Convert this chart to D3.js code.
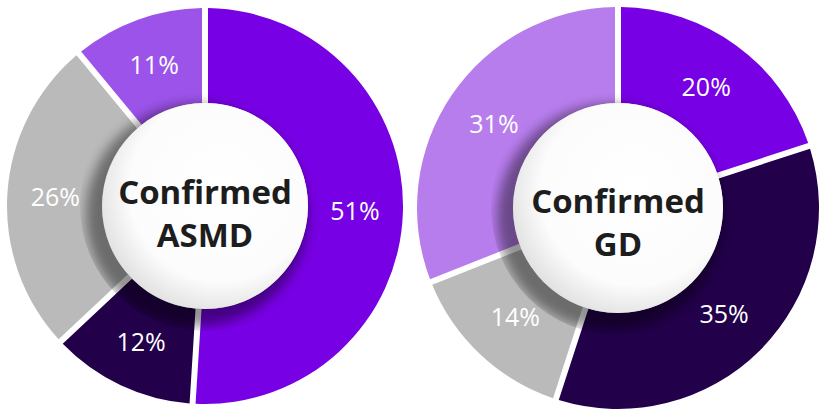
<!DOCTYPE html>
<html><head><meta charset="utf-8">
<script src="https://cdn.jsdelivr.net/npm/d3@7"></script>
<style>html,body{margin:0;padding:0;background:#fff;}svg{display:block;}</style>
</head><body>
<svg id="chart" width="827" height="419"></svg>
<script>
// Data
const chartTitles = [["Confirmed", "ASMD"], ["Confirmed", "GD"]];
const asmdLabels = ["A", "B", "C", "D"];
const asmdValues = [51, 12, 26, 11];
const asmdColors = ["#7800e4", "#22004a", "#bababa", "#9c53e9"];
const gdLabels = ["A", "B", "C", "D"];
const gdValues = [20, 35, 14, 31];
const gdColors = ["#7800e4", "#22004a", "#bababa", "#b87ded"];

const svg = d3.select("#chart");
const defs = svg.append("defs");
const blur = defs.append("filter").attr("id", "blur").attr("x", "-30%").attr("y", "-30%").attr("width", "160%").attr("height", "160%");
blur.append("feGaussianBlur").attr("stdDeviation", 6);
const grad = defs.append("radialGradient").attr("id", "sphere").attr("cx", "58%").attr("cy", "42%").attr("r", "62%");
grad.append("stop").attr("offset", "0%").attr("stop-color", "#ffffff");
grad.append("stop").attr("offset", "72%").attr("stop-color", "#fcfcfc");
grad.append("stop").attr("offset", "100%").attr("stop-color", "#e0e0e0");

const charts = [
  {cx: 205, cy: 206, r: 198, values: asmdValues, labels: asmdLabels, colors: asmdColors, title: chartTitles[0], ir: 103, ty: -2},
  {cx: 618, cy: 208, r: 201, values: gdValues, labels: gdLabels, colors: gdColors, title: chartTitles[1], ir: 105, ty: 5}
];

charts.forEach((c, ci) => {
  const g = svg.append("g").attr("transform", `translate(${c.cx},${c.cy})`);
  const pie = d3.pie().sort(null).value(d => d)(c.values);
  const gap = 6;
  const arc = d3.arc().innerRadius(c.ir).outerRadius(c.r)
    .padAngle(gap / c.r).padRadius(c.r);
  g.selectAll("path.slice").data(pie).join("path")
    .attr("class", "slice")
    .attr("d", arc)
    .attr("fill", (d, i) => c.colors[i]);

  // shadow (clipped to a disc slightly larger than the hole)
  const clipId = "clip" + ci;
  defs.append("clipPath").attr("id", clipId)
    .append("circle").attr("r", c.ir + 22);
  g.append("g").attr("clip-path", `url(#${clipId})`)
    .append("circle")
    .attr("cx", -8).attr("cy", 9).attr("r", c.ir + 8)
    .attr("fill", "#000").attr("opacity", 0.42)
    .attr("filter", "url(#blur)");
  g.append("circle").attr("r", c.ir).attr("fill", "url(#sphere)");

  // labels
  const lab = d3.arc().innerRadius(150).outerRadius(150);
  g.selectAll("text.pct").data(pie).join("text")
    .attr("class", "pct")
    .attr("transform", d => `translate(${lab.centroid(d)})`)
    .attr("text-anchor", "middle")
    .attr("dy", "0.36em")
    .attr("fill", "#fff")
    .style("font-family", "'Open Sans', sans-serif")
    .style("font-weight", "400")
    .style("font-size", "25px")
    .text(d => d.data + "%");

  const t = g.append("text").attr("text-anchor", "middle")
    .attr("fill", "#1d1d1d")
    .style("font-family", "'Open Sans', sans-serif")
    .style("font-weight", "700")
    .style("font-size", "33px");
  t.append("tspan").attr("x", 0).attr("y", c.ty).text(c.title[0]);
  t.append("tspan").attr("x", 0).attr("y", c.ty + 43).text(c.title[1]);
});
</script>
</body></html>
